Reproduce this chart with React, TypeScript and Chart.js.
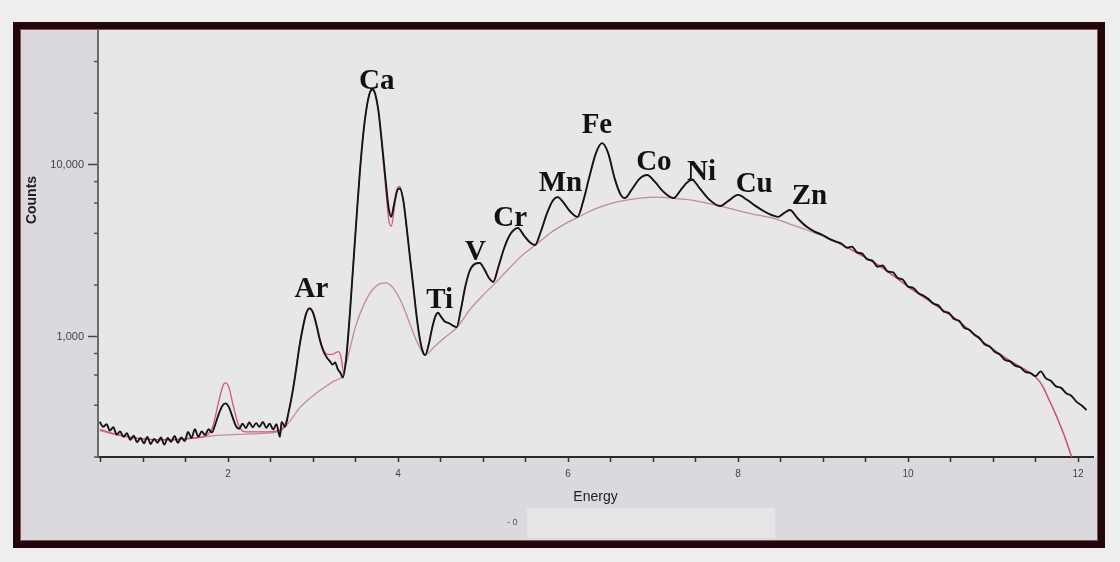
import React, { useEffect, useRef } from "react";
import { Chart, registerables } from "chart.js";

Chart.register(...registerables);

// ---------- measured spectrum (black) ----------
const measuredEnergy = [
  0.49, 0.53, 0.57, 0.61, 0.65, 0.69, 0.73, 0.77, 0.81, 0.85, 0.89, 0.93, 0.97, 1.01, 1.05, 1.09, 1.13, 1.17,
  1.21, 1.25, 1.29, 1.33, 1.37, 1.41, 1.45, 1.49, 1.53, 1.57, 1.61, 1.65, 1.69, 1.73, 1.77, 1.81, 1.85, 1.89,
  1.93, 1.97, 2.01, 2.05, 2.09, 2.13, 2.17, 2.21, 2.25, 2.29, 2.33, 2.37, 2.41, 2.45, 2.49, 2.53, 2.57, 2.61,
  2.63, 2.67, 2.71, 2.76, 2.8, 2.84, 2.88, 2.92, 2.96, 3.0, 3.04, 3.08, 3.12, 3.16, 3.2, 3.23, 3.26, 3.29,
  3.32, 3.35, 3.39, 3.43, 3.47, 3.51, 3.55, 3.59, 3.63, 3.67, 3.7, 3.73, 3.77, 3.81, 3.85, 3.89, 3.92, 3.95,
  3.99, 4.02, 4.06, 4.1, 4.14, 4.18, 4.22, 4.26, 4.3, 4.32, 4.36, 4.4, 4.44, 4.47, 4.51, 4.55, 4.6, 4.65,
  4.69, 4.74, 4.79, 4.84, 4.9, 4.96, 5.02, 5.07, 5.12, 5.18, 5.25, 5.32, 5.41, 5.48, 5.55, 5.61, 5.68, 5.75,
  5.82, 5.88, 5.94, 6.02, 6.11, 6.18, 6.25, 6.33, 6.4, 6.47, 6.55, 6.62, 6.67, 6.75, 6.84, 6.93, 7.02, 7.12,
  7.24, 7.33, 7.4, 7.46, 7.55, 7.66, 7.79, 7.88, 8.0, 8.1, 8.2, 8.3, 8.4, 8.47, 8.54, 8.61, 8.7, 8.8, 8.9,
  9.0, 9.08, 9.16, 9.22, 9.28, 9.34, 9.4, 9.46, 9.52, 9.58, 9.64, 9.7, 9.76, 9.82, 9.88, 9.94, 10.0, 10.06,
  10.12, 10.18, 10.24, 10.3, 10.36, 10.42, 10.48, 10.54, 10.6, 10.66, 10.72, 10.78, 10.84, 10.9, 10.96, 11.02,
  11.08, 11.14, 11.2, 11.26, 11.32, 11.38, 11.44, 11.5, 11.56, 11.62, 11.68, 11.74, 11.8, 11.86, 11.92, 11.98,
  12.04, 12.1,
];
const measuredCounts = [
  320, 300, 310, 285, 298, 270, 282, 262, 275, 252, 266, 244, 258, 240, 262, 238, 255, 242,
  260, 236, 258, 245, 265, 242, 260, 248, 280, 258, 290, 262, 282, 268, 290, 278, 310, 355,
  395, 410, 390, 345, 305, 292, 312, 295, 318, 298, 315, 300, 320, 296, 312, 290, 310, 262,
  320, 300, 360, 480, 640, 880, 1130, 1370, 1460, 1380, 1170, 960, 830, 760, 720, 690, 710, 650,
  620, 580, 750, 1300, 2500, 4800, 9000, 15000, 21500, 26500, 27500, 26000, 20500, 13500, 8500, 5600, 5000, 5800,
  7100, 7300, 6300, 4400, 2900, 1950, 1300, 950, 800, 785, 900, 1120, 1320, 1380, 1300, 1230, 1200, 1160,
  1140, 1450, 1950, 2400, 2650, 2690, 2450, 2200, 2090, 2550, 3300, 3950, 4300, 3900, 3550, 3420, 4100, 5200,
  6200, 6500, 6100, 5400, 4990, 6200, 8500, 11800, 13400, 11800, 8300, 6700, 6420, 7200, 8300, 8750, 8000, 7000,
  6420, 7200, 7900, 8190, 7300, 6300, 5770, 6150, 6700, 6300, 5800, 5400, 5100, 4990, 5250, 5470, 4900, 4400, 4100,
  3900, 3700, 3570, 3480, 3300, 3350, 3100, 3050, 2820, 2780, 2560, 2600, 2400, 2380, 2200, 2150, 1960, 1930,
  1800, 1740, 1660, 1560, 1520, 1400, 1380, 1270, 1240, 1130, 1100, 1030, 985, 905, 880, 820,
  790, 735, 720, 680, 665, 625, 615, 590, 630, 575, 555, 515, 505, 470, 455, 420,
  400, 375,
];

// ---------- fitted spectrum (red) ----------
const fitEnergy = [
  0.49, 0.7, 1.0, 1.3, 1.6, 1.75, 1.82, 1.88, 1.94, 1.97, 2.01, 2.06, 2.12, 2.2, 2.4, 2.6, 2.68, 2.72, 2.76,
  2.8, 2.84, 2.88, 2.92, 2.96, 3.0, 3.04, 3.08, 3.12, 3.17, 3.22, 3.28, 3.3, 3.33, 3.36, 3.39, 3.43, 3.47,
  3.51, 3.55, 3.59, 3.63, 3.67, 3.7, 3.73, 3.77, 3.81, 3.85, 3.89, 3.92, 3.95, 3.99, 4.02, 4.06, 4.1, 4.14,
  4.18, 4.22, 4.26, 4.3, 4.32, 4.36, 4.4, 4.44, 4.47, 4.51, 4.55, 4.6, 4.65, 4.69, 4.74, 4.79, 4.84, 4.9,
  4.96, 5.02, 5.07, 5.12, 5.18, 5.25, 5.32, 5.41, 5.48, 5.55, 5.61, 5.68, 5.75, 5.82, 5.88, 5.94, 6.02, 6.11,
  6.18, 6.25, 6.33, 6.4, 6.47, 6.55, 6.62, 6.67, 6.75, 6.84, 6.93, 7.02, 7.12, 7.24, 7.33, 7.4, 7.46, 7.55,
  7.66, 7.79, 7.88, 8.0, 8.1, 8.2, 8.3, 8.4, 8.47, 8.54, 8.61, 8.7, 8.8, 8.9, 9.0, 9.08, 9.16, 9.4, 9.7,
  10.0, 10.3, 10.6, 10.9, 11.2, 11.44, 11.5, 11.58, 11.65, 11.72, 11.78, 11.84, 11.89, 11.94,
];
const fitCounts = [
  290, 270, 255, 252, 258, 268, 300, 400, 520, 540, 510, 400, 310, 280, 280, 285, 320, 380, 490,
  660, 890, 1140, 1380, 1480, 1400, 1190, 980, 850, 790, 790, 815, 820, 760, 620, 760, 1300, 2500,
  4800, 9000, 15000, 21500, 26500, 27800, 26200, 20500, 13000, 7800, 4800, 4400, 5300, 7300, 7500, 6300, 4300, 2900,
  1950, 1300, 950, 800, 785, 900, 1120, 1320, 1380, 1300, 1230, 1200, 1160, 1140, 1450, 1950, 2400, 2650,
  2690, 2450, 2200, 2090, 2550, 3300, 3950, 4300, 3900, 3550, 3420, 4100, 5200, 6200, 6500, 6100, 5400, 4990,
  6200, 8500, 11800, 13400, 11800, 8300, 6700, 6420, 7200, 8300, 8750, 8000, 7000, 6420, 7200, 7900, 8190, 7300,
  6300, 5770, 6150, 6700, 6300, 5800, 5400, 5100, 4990, 5250, 5470, 4900, 4400, 4100, 3900, 3700, 3570, 3080, 2520,
  1960, 1560, 1230, 920, 725, 617, 585, 520, 440, 370, 315, 265, 225, 190,
];

// ---------- background continuum (pink) ----------
const bgEnergy = [
  0.49, 0.7, 1.0, 1.3, 1.6, 1.9, 2.2, 2.5, 2.62, 2.72, 2.85, 3.0, 3.15, 3.25, 3.34, 3.42, 3.5, 3.6, 3.7,
  3.8, 3.86, 3.95, 4.05, 4.15, 4.23, 4.32, 4.42, 4.55, 4.69, 4.85, 5.0, 5.12, 5.3, 5.45, 5.61, 5.8, 6.0,
  6.11, 6.3, 6.5, 6.67, 6.85, 7.05, 7.24, 7.45, 7.62, 7.79, 8.0, 8.2, 8.41, 8.6, 8.8, 9.0, 9.16, 9.4, 9.7,
  10.0, 10.3, 10.6, 10.9, 11.2, 11.44, 11.5, 11.58, 11.65, 11.72, 11.78, 11.84, 11.89, 11.94,
];
const bgCounts = [
  285, 268, 255, 252, 258, 268, 272, 276, 285, 320, 390, 455, 515, 555, 590, 800, 1150, 1550, 1880,
  2050, 2060, 1900, 1550, 1150, 920, 785, 870, 990, 1130, 1450, 1750, 2000, 2480, 2950, 3400, 4050, 4650,
  4950, 5500, 5950, 6230, 6420, 6500, 6400, 6250, 6020, 5770, 5430, 5150, 4900, 4550, 4200, 3850, 3540, 3080, 2520,
  1960, 1560, 1230, 920, 725, 617, 585, 520, 440, 370, 315, 265, 225, 190,
];

// ---------- element labels ----------
const elementNames = ["Ar", "Ca", "Ti", "V", "Cr", "Mn", "Fe", "Co", "Ni", "Cu", "Zn"];
const elementLabelEnergy = [2.98, 3.75, 4.49, 4.91, 5.32, 5.91, 6.34, 7.01, 7.57, 8.19, 8.84];
const elementLabelCounts = [1880, 30400, 1620, 3080, 4850, 7760, 16900, 10400, 9100, 7650, 6520];

// ---------- axes ----------
const xTickValues = [0.5, 1, 1.5, 2, 2.5, 3, 3.5, 4, 4.5, 5, 5.5, 6, 6.5, 7, 7.5, 8, 8.5, 9, 9.5, 10, 10.5, 11, 11.5, 12];
const xLabelValues = [2, 4, 6, 8, 10, 12];
const xLabelTexts = ["2", "4", "6", "8", "10", "12"];
const yTickValues = [200, 400, 600, 800, 1000, 2000, 4000, 6000, 8000, 10000, 20000, 40000];
const yLabelValues = [1000, 10000];
const yLabelTexts = ["1,000", "10,000"];

const SANS = '"Liberation Sans", Arial, sans-serif';

const toPoints = (xs: number[], ys: number[]) => xs.map((x, i) => ({ x, y: ys[i] }));

const decorPlugin = {
  id: "decor",
  beforeDraw(chart: any) {
    const { ctx, chartArea } = chart;
    ctx.save();
    ctx.fillStyle = "#eeeeee";
    ctx.fillRect(0, 0, 1120, 562);
    ctx.fillStyle = "#23060a";
    ctx.fillRect(13, 22, 1092, 526);
    ctx.fillStyle = "#dbd9dd";
    ctx.fillRect(21, 30, 1076, 510);
    ctx.strokeStyle = "rgba(200,130,140,0.6)";
    ctx.lineWidth = 1;
    ctx.strokeRect(20.5, 29.5, 1077, 511);
    ctx.fillStyle = "#e7e7e7";
    ctx.fillRect(chartArea.left, chartArea.top, 1097 - chartArea.left, chartArea.bottom - chartArea.top);
    // light strip below axis title
    ctx.fillStyle = "#e6e6e6";
    ctx.fillRect(527, 508, 248, 30);
    ctx.fillStyle = "#555";
    ctx.font = "9px " + SANS;
    ctx.textAlign = "left";
    ctx.textBaseline = "middle";
    ctx.fillText("- 0", 507, 523);
    // y title
    ctx.translate(32, 200);
    ctx.rotate(-Math.PI / 2);
    ctx.fillStyle = "#1e1e1e";
    ctx.font = "bold 14px " + SANS;
    ctx.textAlign = "center";
    ctx.fillText("Counts", 0, 0);
    ctx.restore();
  },
  afterDraw(chart: any) {
    const { ctx, chartArea, scales } = chart;
    ctx.save();
    // minor y ticks
    ctx.strokeStyle = "#555";
    ctx.lineWidth = 1.5;
    yTickValues.forEach((v) => {
      if (yLabelValues.includes(v)) return;
      const y = scales.y.getPixelForValue(v);
      ctx.beginPath();
      ctx.moveTo(chartArea.left - 4, y);
      ctx.lineTo(chartArea.left, y);
      ctx.stroke();
    });
    // element labels
    ctx.fillStyle = "#121212";
    ctx.font = 'bold 29px "Liberation Serif", "Times New Roman", serif';
    ctx.textAlign = "center";
    ctx.textBaseline = "middle";
    elementNames.forEach((name, i) => {
      const x = scales.x.getPixelForValue(elementLabelEnergy[i]);
      const y = scales.y.getPixelForValue(elementLabelCounts[i]);
      ctx.fillText(name, x, y);
    });
    ctx.restore();
  },
};

export default function App() {
  const ref = useRef<HTMLCanvasElement>(null);
  useEffect(() => {
    const canvas = ref.current!;
    const chart = new Chart(canvas, {
      type: "line",
      data: {
        datasets: [
          {
            label: "Measured",
            data: toPoints(measuredEnergy, measuredCounts),
            borderColor: "#151515",
            borderWidth: 1.9,
            pointRadius: 0,
            cubicInterpolationMode: "monotone",
            order: 0,
          },
          {
            label: "Fit",
            data: toPoints(fitEnergy, fitCounts),
            borderColor: "rgba(212,70,104,0.9)",
            borderWidth: 1.3,
            pointRadius: 0,
            cubicInterpolationMode: "monotone",
            order: 1,
          },
          {
            label: "Background",
            data: toPoints(bgEnergy, bgCounts),
            borderColor: "#c48a9c",
            borderWidth: 1.3,
            pointRadius: 0,
            cubicInterpolationMode: "monotone",
            order: 2,
          },
        ],
      },
      options: {
        responsive: false,
        devicePixelRatio: 1,
        animation: false,
        layout: { padding: { top: 30, right: 27, left: 0, bottom: 0 } },
        plugins: { legend: { display: false }, tooltip: { enabled: false } },
        scales: {
          x: {
            type: "linear",
            min: 0.47,
            max: 12.176,
            afterBuildTicks: (s: any) => {
              s.ticks = xTickValues.map((v) => ({ value: v }));
            },
            afterFit: (s: any) => {
              s.height = 105;
            },
            ticks: {
              autoSkip: false,
              maxRotation: 0,
              padding: 6,
              color: "#444",
              font: { size: 10, family: SANS },
              callback: (v: any) => {
                const i = xLabelValues.indexOf(Number(v));
                return i >= 0 ? xLabelTexts[i] : "";
              },
            },
            grid: { drawOnChartArea: false, drawTicks: true, tickLength: 5, tickColor: "#333", tickWidth: 1.5 },
            border: { display: true, color: "#2a2a2a", width: 2 },
            title: {
              display: true,
              text: "Energy",
              color: "#222",
              font: { size: 14, family: SANS },
              padding: { top: 0, bottom: 56 },
            },
          },
          y: {
            type: "logarithmic",
            min: 200,
            max: 61000,
            afterBuildTicks: (s: any) => {
              s.ticks = yTickValues.map((v) => ({ value: v }));
            },
            afterFit: (s: any) => {
              s.width = 98;
            },
            ticks: {
              autoSkip: false,
              padding: 4,
              color: "#444",
              font: { size: 11, family: SANS },
              callback: (v: any) => {
                const i = yLabelValues.indexOf(Number(v));
                return i >= 0 ? yLabelTexts[i] : "";
              },
            },
            grid: {
              drawOnChartArea: false,
              drawTicks: true,
              tickLength: 10,
              tickWidth: 1.5,
              tickColor: (c: any) =>
                c.tick && yLabelValues.includes(c.tick.value) ? "#444" : "rgba(0,0,0,0)",
            },
            border: { display: true, color: "#6a6a6a", width: 2 },
          },
        },
      },
      plugins: [decorPlugin],
    } as any);
    return () => chart.destroy();
  }, []);
  return (
    <div style={{ position: "fixed", left: 0, top: 0, width: 1120, height: 562 }}>
      <canvas ref={ref} width={1120} height={562} style={{ display: "block", width: 1120, height: 562 }} />
    </div>
  );
}
